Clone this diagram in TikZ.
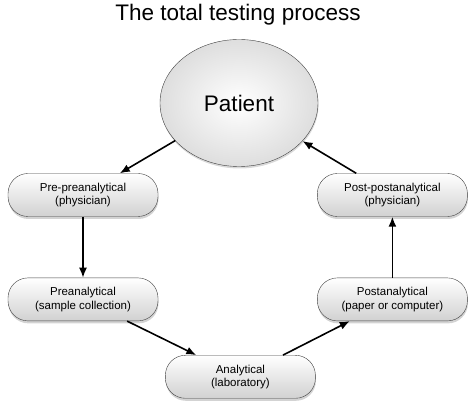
\documentclass[tikz,border=0pt]{standalone}
\usepackage{fontspec}
\setmainfont{Liberation Sans}
\usetikzlibrary{positioning,shapes.geometric,shadows,arrows.meta}

\begin{document}
\begin{tikzpicture}[x=1pt,y=1pt,
		stagenode/.style={rectangle, rounded corners=20pt, draw=black!75, thin, top color=white, bottom color=black!18, minimum width=150pt, minimum height=43pt, align=center, font=\fontsize{11.5}{13.5}\selectfont, drop shadow={shadow xshift=0.5pt, shadow yshift=-2.5pt, opacity=0.35}},
		patnode/.style={ellipse, draw=black!75, thin, inner color=white, outer color=black!13, minimum width=158pt, minimum height=127pt, font=\fontsize{22.5}{26}\selectfont, drop shadow={shadow xshift=0.5pt, shadow yshift=-2pt, opacity=0.3}},
		flow/.style={line width=1.6pt, -{Latex[length=10pt,width=8pt]}}]
		\useasboundingbox (0,0) rectangle (474,-411);
		\node (title) at (238,-15) {\fontsize{22.5}{26}\selectfont The total testing process};
		\node[patnode] (patient) at (239,-103) {Patient};
		\node[stagenode] (prepre) at (83,-195) {Pre-preanalytical\\(physician)};
		\node[stagenode] (pre) [below=61pt of prepre] {Preanalytical\\(sample collection)};
		\node[stagenode] (analytical) [below right=34pt and 7pt of pre] {Analytical\\(laboratory)};
		\node[stagenode] (post) [right=159pt of pre] {Postanalytical\\(paper or computer)};
		\node[stagenode] (postpost) [above=61pt of post] {Post-postanalytical\\(physician)};
		\draw[flow] (patient) -- (prepre);
		\draw[flow] (prepre) -- (pre);
		\draw[flow] (pre) -- (analytical);
		\draw[flow] (analytical) -- (post);
		\draw[flow] (post) -- (postpost);
		\draw[flow] (postpost) -- (patient);
	\end{tikzpicture}
\end{document}
